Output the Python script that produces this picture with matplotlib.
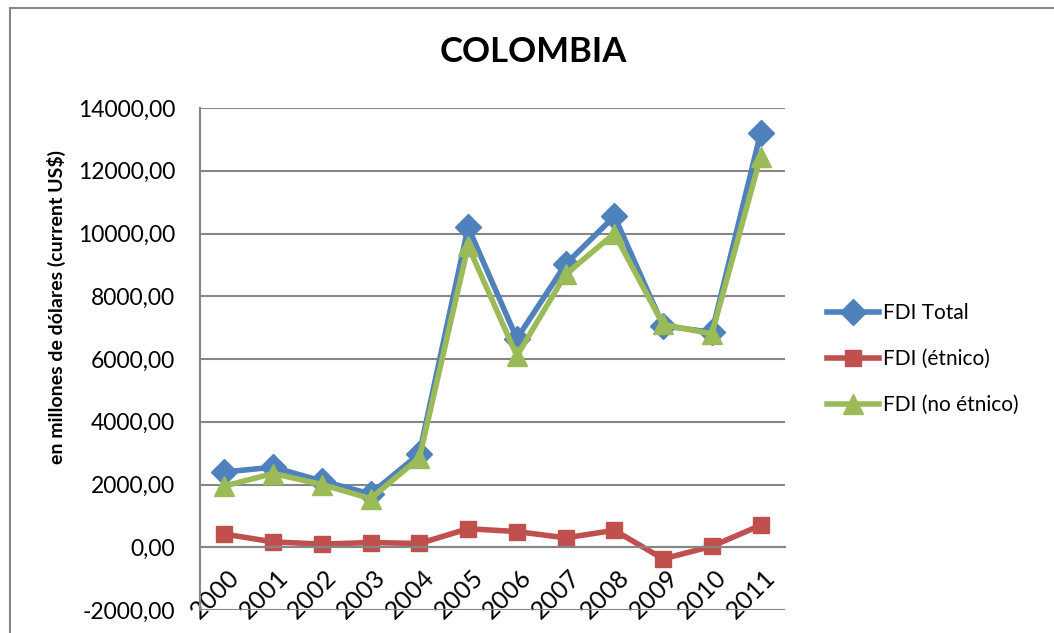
import matplotlib.pyplot as plt
from matplotlib.lines import Line2D
from matplotlib.ticker import FuncFormatter
from matplotlib.transforms import ScaledTranslation

plt.rcParams['font.family'] = ['Lato', 'DejaVu Sans']

# FDI Colombia, millones de dólares
years = ['2000', '2001', '2002', '2003', '2004', '2005',
         '2006', '2007', '2008', '2009', '2010', '2011']
fdi_total = [2400, 2550, 2110, 1700, 2980, 10200, 6650, 9020, 10550, 7060, 6850, 13200]
fdi_etnico = [420, 170, 100, 150, 120, 590, 500, 300, 540, -370, 30, 700]
fdi_no_etnico = [1950, 2350, 2000, 1550, 2850, 9600, 6100, 8700, 10000, 7100, 6800, 12450]

series = [
    ('FDI Total', fdi_total, '#4F81BD', 'D', 13),
    ('FDI (étnico)', fdi_etnico, '#C0504D', 's', 12),
    ('FDI (no étnico)', fdi_no_etnico, '#9BBB59', '^', 14),
]

fig = plt.figure(figsize=(10.54, 6.33), dpi=100)
ax = fig.add_axes([200 / 1054, 1 - 610 / 633, 585 / 1054, 502 / 633])

x = list(range(len(years)))
for name, vals, color, marker, ms in series:
    ax.plot(x, vals, color=color, lw=4, marker=marker, ms=ms,
            label=name, solid_joinstyle='round')

ax.set_xlim(-0.5, len(years) - 0.5)
ax.set_ylim(-2000, 14000)
ax.set_yticks(range(-2000, 14001, 2000))
ax.yaxis.set_major_formatter(FuncFormatter(lambda v, p: f'{v:.2f}'.replace('.', ',')))
ax.grid(axis='y', color='#868686', lw=1.5)
ax.set_axisbelow(True)

# category axis crosses at zero
ax.spines['bottom'].set_position(('data', 0))
ax.spines['bottom'].set_color('#868686')
ax.spines['bottom'].set_linewidth(1.5)
ax.spines['left'].set_color('#868686')
ax.spines['left'].set_linewidth(1.5)
for s in ['top', 'right']:
    ax.spines[s].set_visible(False)

ax.set_xticks(x)
ax.set_xticklabels(years, rotation=45, ha='right', va='top', rotation_mode='anchor')
ax.tick_params(axis='x', length=0, pad=13, labelsize=18)
ax.tick_params(axis='y', length=0, pad=18, labelsize=16.5)
shift = ScaledTranslation(3 / 100, 0, fig.dpi_scale_trans)
for lbl in ax.get_xticklabels():
    lbl.set_transform(lbl.get_transform() + shift)

ax.set_ylabel('en millones de dólares (current US$)', fontsize=14,
              fontweight='bold')
ax.yaxis.set_label_coords(-0.229, 0.604)

fig.text(533 / 1054, 1 - 52 / 633, 'COLOMBIA', fontsize=25, fontweight='bold',
         ha='center', va='center')

ax.legend(loc='center left', bbox_to_anchor=(1.04, 0.5), frameon=False,
          fontsize=15, handlelength=2.5, labelspacing=1.25, handletextpad=0.2)

# outer chart border
fig.add_artist(Line2D([10 / 1054, 1], [1 - 8 / 633, 1 - 8 / 633],
                      transform=fig.transFigure, color='#868686', lw=1.5))
fig.add_artist(Line2D([10 / 1054, 10 / 1054], [0, 1 - 8 / 633],
                      transform=fig.transFigure, color='#868686', lw=1.5))

fig.savefig('out.png', dpi=100)
